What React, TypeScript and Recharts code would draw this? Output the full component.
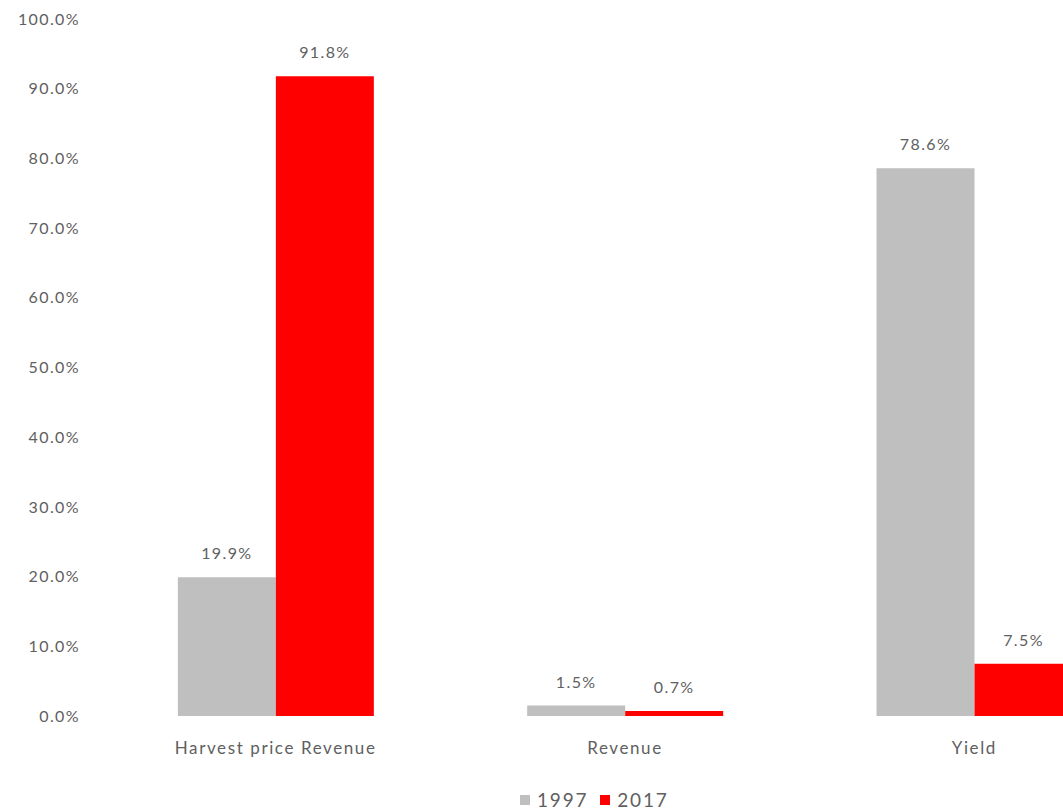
import { BarChart, Bar, XAxis, YAxis, LabelList } from 'recharts'

const categories = ['Harvest price Revenue', 'Revenue', 'Yield']
const values1997 = [19.9, 1.5, 78.6]
const values2017 = [91.8, 0.7, 7.5]
const yTicks = [0, 10, 20, 30, 40, 50, 60, 70, 80, 90, 100]

const seriesNames = ['1997', '2017']
const GRAY = '#bfbfbf'
const RED = '#ff0000'
const TEXT = '#606060'
const FONT = 'Lato, "Open Sans", sans-serif'

const data = categories.map((name, i) => ({
  name,
  v1997: values1997[i],
  v2017: values2017[i],
}))

const pct = (v: number) => `${v.toFixed(1)}%`

const labelStyle = { fill: TEXT, fontSize: 16, fontFamily: FONT, letterSpacing: 1.4 }

export default function App() {
  return (
    <div
      style={{
        position: 'absolute',
        left: 0,
        top: 0,
        width: 1063,
        height: 811,
        overflow: 'hidden',
        background: '#fff',
        fontFamily: FONT,
      }}
    >
      <BarChart
        width={1149}
        height={811}
        data={data}
        margin={{ top: 19, right: 0, bottom: 55, left: 0 }}
        barGap={0}
        barCategoryGap="22%"
      >
        <YAxis
          domain={[0, 100]}
          ticks={yTicks}
          width={101}
          axisLine={false}
          tickLine={false}
          tickMargin={15}
          tickFormatter={pct}
          tick={{ fill: TEXT, fontSize: 16, fontFamily: FONT, letterSpacing: 1.4 }}
        />
        <XAxis
          dataKey="name"
          axisLine={false}
          tickLine={false}
          height={40}
          tickMargin={20}
          tick={{ fill: TEXT, fontSize: 17, fontFamily: FONT, letterSpacing: 1.6 }}
        />
        <Bar dataKey="v1997" fill={GRAY} isAnimationActive={false}>
          <LabelList
            dataKey="v1997"
            position="top"
            offset={18}
            formatter={(v: number) => pct(v)}
            style={labelStyle}
          />
        </Bar>
        <Bar dataKey="v2017" fill={RED} isAnimationActive={false}>
          <LabelList
            dataKey="v2017"
            position="top"
            offset={18}
            formatter={(v: number) => pct(v)}
            style={labelStyle}
          />
        </Bar>
      </BarChart>
      <div
        style={{
          position: 'absolute',
          left: 520,
          top: 788,
          display: 'flex',
          alignItems: 'center',
          color: TEXT,
          fontSize: 19,
          letterSpacing: 1.8,
        }}
      >
        {seriesNames.map((s, i) => (
          <div key={s} style={{ display: 'flex', alignItems: 'center', marginRight: 12 }}>
            <span
              style={{
                display: 'inline-block',
                width: 10,
                height: 10,
                background: i === 0 ? GRAY : RED,
                marginRight: 7,
              }}
            />
            <span>{s}</span>
          </div>
        ))}
      </div>
    </div>
  )
}
